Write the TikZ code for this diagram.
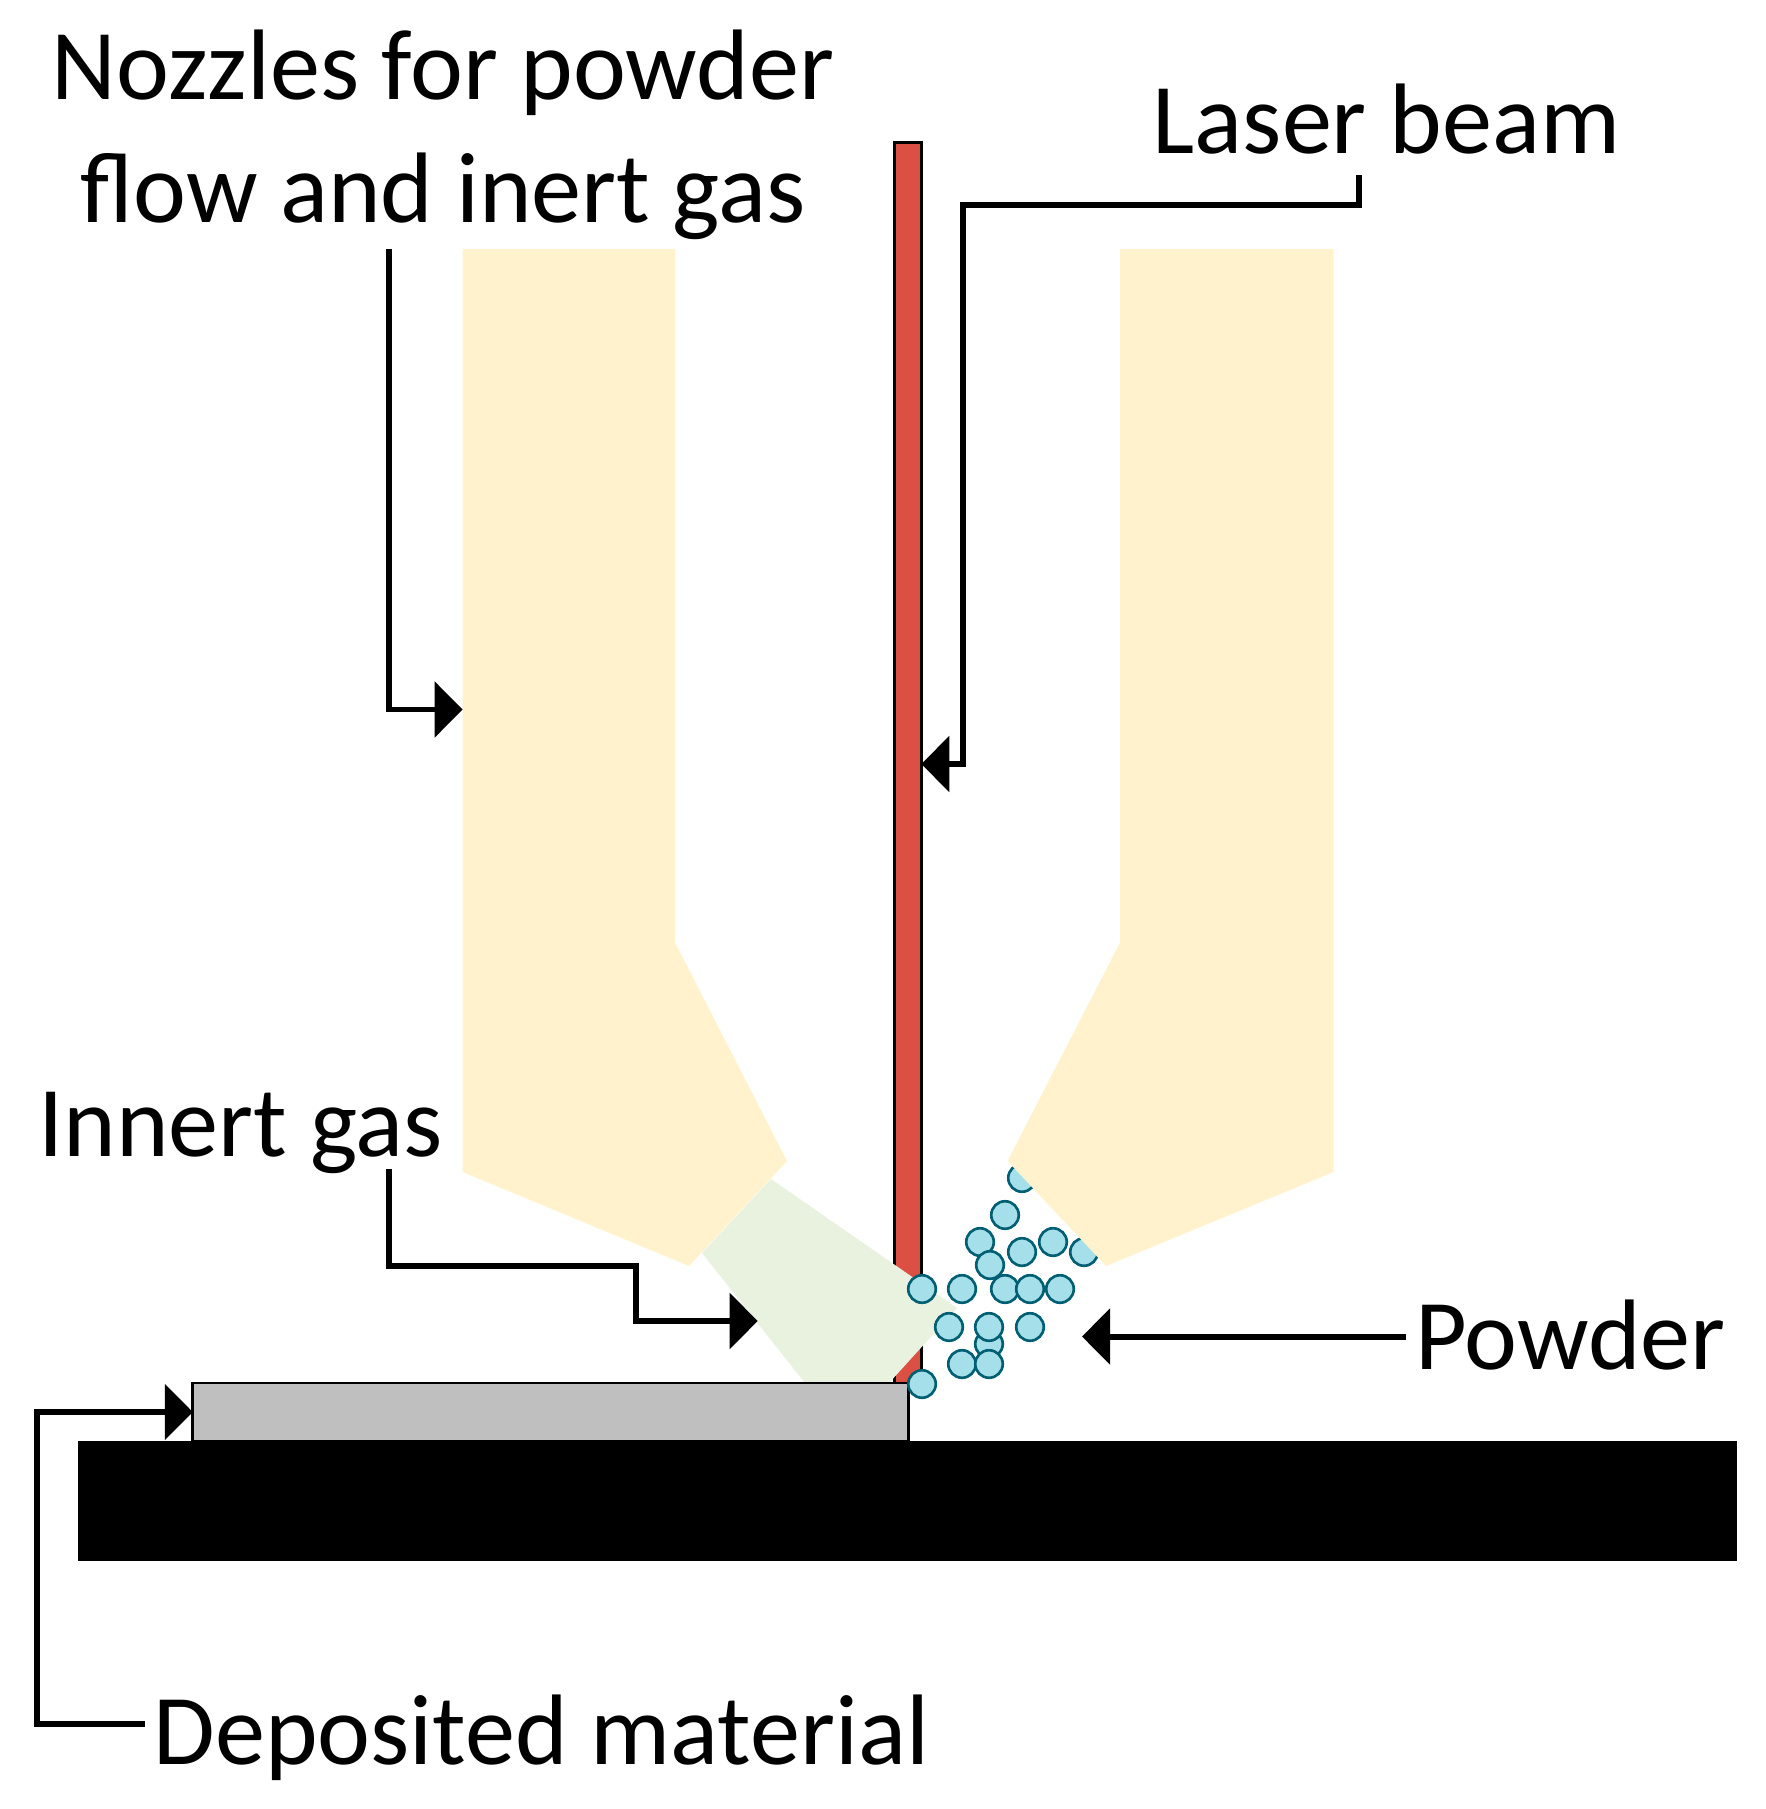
\documentclass[tikz,border=0pt]{standalone}
\usepackage{fontspec}
\setmainfont{Carlito}
\usetikzlibrary{arrows.meta}
\definecolor{nozzlecol}{HTML}{FFF2CC}
\definecolor{gascol}{HTML}{E9F1DF}
\definecolor{beamcol}{HTML}{DC5044}
\definecolor{grainfill}{HTML}{A5E0EA}
\definecolor{grainline}{HTML}{005F73}
\tikzset{
  lbl/.style={inner sep=0pt, font=\fontsize{28.5}{34.9}\selectfont},
  callout/.style={draw=black, line width=1.7pt, -{Triangle[length=2.8mm, width=5.5mm]}},
  grain/.style={circle, draw=grainline, fill=grainfill, line width=0.75pt, inner sep=0pt, minimum size=2.75mm},
}
\begin{document}
\begin{tikzpicture}[x=0.01cm, y=-0.01cm]
      \useasboundingbox (0,0) rectangle (1765,1809);
      %
      \node[draw=black, fill=beamcol, line width=0.75pt, outer sep=0pt, minimum width=2.66cm/10, minimum height=12.4cm, inner sep=0pt] (beam) at (908,763) {};
      \fill[gascol] (771,1179) -- (957,1308) -- (889,1383) -- (805,1383) -- (702,1253) -- cycle;
      \node[fill=black, minimum width=16.575cm, minimum height=1.2cm, inner sep=0pt, outer sep=0pt] (base) at (907.25,1501) {};
      \node[draw=black, fill=black!25, line width=0.75pt, outer sep=0pt, minimum width=7.15cm, minimum height=0.58cm, inner sep=0pt] (deposit) at (550.5,1412) {};
      %
      \foreach \x/\y [count=\i] in {1022/1178, 1005/1215, 980/1242, 1022/1252, 1053/1242, 1084/1252, 990/1265,
        922/1289, 962/1289, 1005/1289, 1030/1289, 1060/1289,
        949/1327, 989/1344, 989/1327, 1030/1327, 962/1364, 989/1364, 922/1384}
        \node[grain] (grain\i) at (\x,\y) {};
      %
      \fill[nozzlecol] (462.6,249) -- (675,249) -- (675,942.5) -- (787,1161) -- (689,1266) -- (462.6,1172) -- cycle;
      \fill[nozzlecol] (1120,249) -- (1333.6,249) -- (1333.6,1172) -- (1106,1266) -- (1007.5,1161) -- (1120,942.5) -- cycle;
      %
      \node[lbl, align=center] (lblNozzle) at (443,135) {Nozzles for powder\\flow and inert gas};
      \node[lbl, anchor=base west] (lblLaser) at (1152,153) {Laser beam};
      \node[lbl, anchor=base west] (lblInert) at (37.7,1156) {Innert gas};
      \node[lbl, outer xsep=0.09cm, anchor=base west] (lblPowder) at (1406,1369) {Powder};
      \node[lbl, outer xsep=0.09cm, anchor=base west] (lblDeposit) at (144.7,1764) {Deposited material};
      %
      \coordinate (nozzleStart) at (389,249);
      \coordinate (nozzleKnee) at (389,709.5);
      \coordinate (nozzleTip) at (462.6,709.5);
      \coordinate (laserStart) at (1359,175);
      \coordinate (laserKnee) at (963,205);
      \coordinate (laserLow) at (963,764);
      \coordinate (inertStart) at (389,1169);
      \coordinate (inertKneeA) at (389,1265.5);
      \coordinate (inertKneeB) at (635.6,1265.5);
      \coordinate (inertKneeC) at (635.6,1321);
      \coordinate (inertTip) at (757.7,1321);
      \coordinate (powderTip) at (1082,1336.5);
      \coordinate (depositLow) at (37,1723.5);
      %
      \draw[callout] (nozzleStart) -- (nozzleKnee) -- (nozzleTip);
      \draw[callout] (laserStart) |- (laserKnee) -- (laserLow) -- (beam.east |- laserLow);
      \draw[callout] (inertStart) -- (inertKneeA) -- (inertKneeB) -- (inertKneeC) -- (inertTip);
      \draw[callout] (lblPowder.west |- powderTip) -- (powderTip);
      \draw[callout] (lblDeposit.west |- depositLow) -- (depositLow) |- (deposit.west);
    \end{tikzpicture}
\end{document}
